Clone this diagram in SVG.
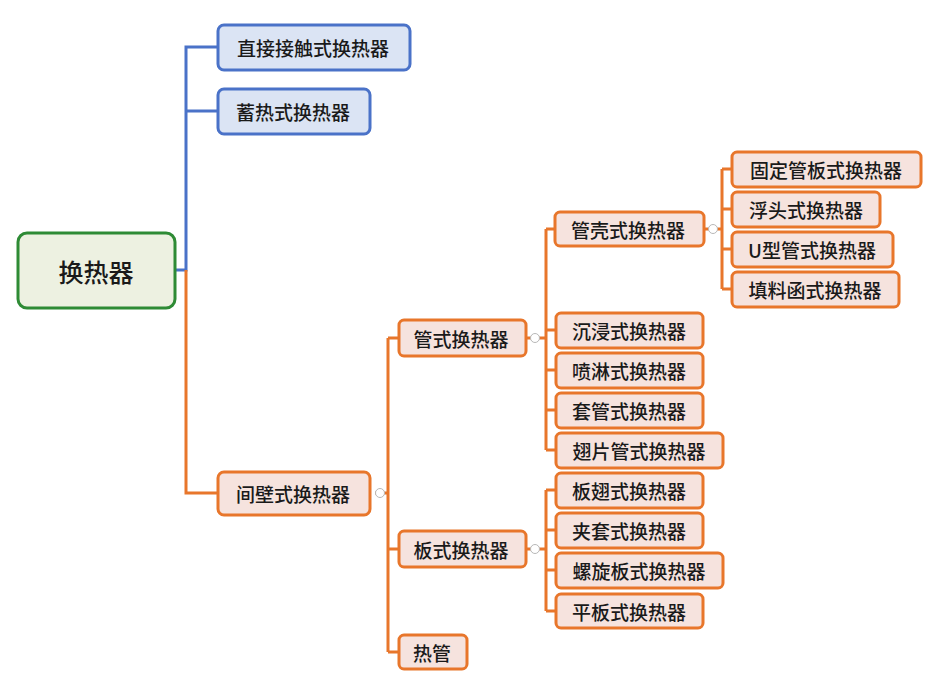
<svg xmlns="http://www.w3.org/2000/svg" width="934" height="681" viewBox="0 0 934 681">
<style>
text{font-family:"Noto Sans CJK SC","Noto Sans",sans-serif;font-size:19px;font-weight:500;fill:#1a1a1a;text-anchor:middle;dominant-baseline:central}
.root rect{fill:#edf1e1;stroke:#2e8b35;stroke-width:3}
.root text{font-size:25px}
.blue rect{fill:#dbe4f4;stroke:#4a72c8;stroke-width:3}
.or rect{fill:#f6e3de;stroke:#e8762b;stroke-width:3}
.cb{fill:none;stroke:#4a72c8;stroke-width:3}
.co{fill:none;stroke:#e8762b;stroke-width:3}
.col{fill:#fff;stroke:#b8b8b8;stroke-width:1}
</style>
<rect width="934" height="681" fill="#fff"/>
<g id="connectors">
<path class="cb" d="M175 270H186V47H218M186 111H218"/>
<path class="co" d="M186 270V493H218"/>
<path class="co" d="M375 493H388M388 338V652M388 338H399M388 549H399M388 652H399"/>
<path class="co" d="M526 338H546M546 229V450M546 229H555M546 330H556M546 370H556M546 410H556M546 450H556"/>
<path class="co" d="M526 549H546M546 490V611M546 490H556M546 530H556M546 570H556M546 611H556"/>
<path class="co" d="M704 229H722M722 169V289M722 169H732M722 209H732M722 249H732M722 289H732"/>
<circle class="col" cx="380" cy="493" r="4.5"/>
<circle class="col" cx="535" cy="338" r="4.5"/>
<circle class="col" cx="535" cy="549" r="4.5"/>
<circle class="col" cx="713" cy="229" r="4.5"/>
</g>
<g id="root" class="root"><rect x="18" y="233" width="157" height="75" rx="9"/><text x="96" y="271">换热器</text></g>
<g id="n1" class="blue"><rect x="218" y="25" width="192" height="45" rx="6"/><text x="313" y="47">直接接触式换热器</text></g>
<g id="n2" class="blue"><rect x="218" y="89" width="152" height="45" rx="6"/><text x="293" y="111">蓄热式换热器</text></g>
<g id="n3" class="or"><rect x="218" y="472" width="152" height="43" rx="6"/><text x="293" y="493">间壁式换热器</text></g>
<g id="n4" class="or"><rect x="399" y="320" width="127" height="36" rx="5"/><text x="461" y="338">管式换热器</text></g>
<g id="n5" class="or"><rect x="399" y="531" width="127" height="36" rx="5"/><text x="461" y="549">板式换热器</text></g>
<g id="n6" class="or"><rect x="399" y="635" width="68" height="34" rx="5"/><text x="432" y="652">热管</text></g>
<g id="n7" class="or"><rect x="555" y="212" width="149" height="34" rx="5"/><text x="628" y="229">管壳式换热器</text></g>
<g id="n8" class="or"><rect x="556" y="313" width="147" height="35" rx="5"/><text x="629" y="330">沉浸式换热器</text></g>
<g id="n9" class="or"><rect x="556" y="353" width="147" height="35" rx="5"/><text x="629" y="370">喷淋式换热器</text></g>
<g id="n10" class="or"><rect x="556" y="393" width="147" height="35" rx="5"/><text x="629" y="410">套管式换热器</text></g>
<g id="n11" class="or"><rect x="556" y="433" width="167" height="35" rx="5"/><text x="639" y="450">翅片管式换热器</text></g>
<g id="n12" class="or"><rect x="556" y="473" width="147" height="35" rx="5"/><text x="629" y="490">板翅式换热器</text></g>
<g id="n13" class="or"><rect x="556" y="513" width="147" height="35" rx="5"/><text x="629" y="530">夹套式换热器</text></g>
<g id="n14" class="or"><rect x="556" y="553" width="167" height="35" rx="5"/><text x="639" y="570">螺旋板式换热器</text></g>
<g id="n15" class="or"><rect x="556" y="594" width="147" height="34" rx="5"/><text x="629" y="611">平板式换热器</text></g>
<g id="n16" class="or"><rect x="732" y="152" width="189" height="35" rx="5"/><text x="826" y="169">固定管板式换热器</text></g>
<g id="n17" class="or"><rect x="732" y="192" width="148" height="35" rx="5"/><text x="806" y="209">浮头式换热器</text></g>
<g id="n18" class="or"><rect x="732" y="232" width="161" height="35" rx="5"/><text x="812" y="249">U型管式换热器</text></g>
<g id="n19" class="or"><rect x="732" y="272" width="167" height="35" rx="5"/><text x="815" y="289">填料函式换热器</text></g>
</svg>
